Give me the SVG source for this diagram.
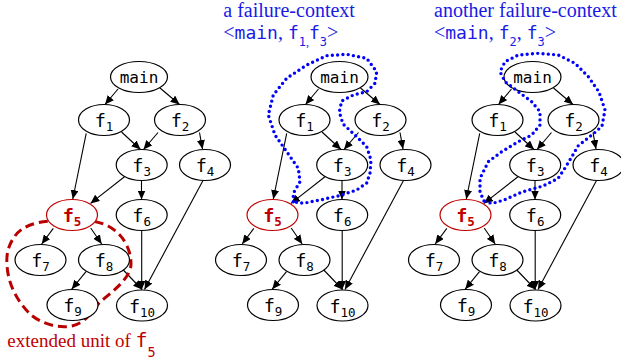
<svg xmlns="http://www.w3.org/2000/svg" width="621" height="362" viewBox="0 0 621 362">
<defs>
<marker id="ah" markerUnits="userSpaceOnUse" markerWidth="9" markerHeight="8" refX="9" refY="4" orient="auto">
<path d="M0,0 L9,4 L0,8 Z" fill="#000"/>
</marker>
<style>
.n ellipse{fill:#fff;stroke:#000;stroke-width:1.2}
.n.red ellipse{stroke:#c00000}
.lbl{font-family:"DejaVu Sans Mono",monospace;font-size:18.5px;text-anchor:middle;fill:#000}
.red .lbl{fill:#c00000;font-weight:bold}
.sub{font-size:12.5px}
.mainl{font-size:16px}
.e{stroke:#000;stroke-width:1.1;fill:none;marker-end:url(#ah)}
.blue{fill:none;stroke:#0000ff;stroke-width:3.4;stroke-dasharray:0 5.3;stroke-linecap:round;stroke-linejoin:round}
.redc{fill:none;stroke:#b80000;stroke-width:3;stroke-dasharray:9 5}
.ttl{font-family:"Liberation Serif","Times New Roman",serif;font-size:20px;fill:#1a1ae6}
.tm{font-family:"DejaVu Sans Mono",monospace;font-size:18px}
.ts{font-family:"DejaVu Sans Mono",monospace;font-size:12px}
.cap{font-family:"Liberation Serif","Times New Roman",serif;font-size:19px;fill:#c00000}
.cm{font-family:"DejaVu Sans Mono",monospace;font-size:20px}
.cs{font-family:"DejaVu Sans Mono",monospace;font-size:13.5px}
</style>
<g id="edges-tpl">
<line class="e" x1="118" y1="89" x2="105" y2="104.5"/>
<line class="e" x1="160" y1="88" x2="179.5" y2="104.5"/>
<line class="e" x1="121.5" y1="132" x2="140.5" y2="149.5"/>
<line class="e" x1="158" y1="132.5" x2="143.5" y2="149.5"/>
<line class="e" x1="86.2" y1="133.3" x2="72.8" y2="199"/>
<line class="e" x1="124.5" y1="176.7" x2="90.5" y2="203.4"/>
<line class="e" x1="141.5" y1="181" x2="141.5" y2="199.5"/>
<line class="e" x1="199.5" y1="132.5" x2="202.5" y2="149"/>
<line class="e" x1="203" y1="180.5" x2="144.5" y2="289.5"/>
<line class="e" x1="53.3" y1="228.3" x2="41.7" y2="244"/>
<line class="e" x1="90.7" y1="228" x2="101.7" y2="244"/>
<line class="e" x1="86" y1="271.7" x2="71.7" y2="289.2"/>
<line class="e" x1="123.3" y1="270" x2="142" y2="289.5"/>
<line class="e" x1="141.7" y1="231" x2="141.7" y2="289.5"/>
</g>
</defs>

<!-- Graph 1 -->
<g id="graph1">
<use id="g1-connectors" href="#edges-tpl"/>
<path id="g1-extended-unit" class="redc" d="M15,236 C22,226 36,222 50,221 C70,219 92,218 108,226 C122,233 131,248 131,264 C131,278 112,292 100,302 C92,310 88,322 72,326 C58,329 40,323 30,314 C18,302 8,285 7,265 C6,253 9,244 15,236 Z"/>
<g id="g1-main" class="n"><ellipse cx="139" cy="77" rx="28.5" ry="15.5"/><text class="lbl mainl" x="139" y="82.5">main</text></g>
<g id="g1-f1" class="n"><ellipse cx="104" cy="120" rx="25.5" ry="15.5"/><text class="lbl" x="104" y="127">f<tspan class="sub" dy="4">1</tspan></text></g>
<g id="g1-f2" class="n"><ellipse cx="180" cy="120" rx="25.5" ry="15.5"/><text class="lbl" x="180" y="127">f<tspan class="sub" dy="4">2</tspan></text></g>
<g id="g1-f3" class="n"><ellipse cx="141.7" cy="165" rx="25.5" ry="15.5"/><text class="lbl" x="141.7" y="172">f<tspan class="sub" dy="4">3</tspan></text></g>
<g id="g1-f4" class="n"><ellipse cx="205" cy="165" rx="25.5" ry="15.5"/><text class="lbl" x="205" y="172">f<tspan class="sub" dy="4">4</tspan></text></g>
<g id="g1-f5" class="n red"><ellipse cx="72" cy="215" rx="25.5" ry="15.5"/><text class="lbl" x="72" y="222">f<tspan class="sub" dy="4">5</tspan></text></g>
<g id="g1-f6" class="n"><ellipse cx="141.7" cy="215" rx="25.5" ry="15.5"/><text class="lbl" x="141.7" y="222">f<tspan class="sub" dy="4">6</tspan></text></g>
<g id="g1-f7" class="n"><ellipse cx="40.5" cy="260" rx="25.5" ry="15.5"/><text class="lbl" x="40.5" y="267">f<tspan class="sub" dy="4">7</tspan></text></g>
<g id="g1-f8" class="n"><ellipse cx="104" cy="260" rx="25.5" ry="15.5"/><text class="lbl" x="104" y="267">f<tspan class="sub" dy="4">8</tspan></text></g>
<g id="g1-f9" class="n"><ellipse cx="72.5" cy="305" rx="25.5" ry="15.5"/><text class="lbl" x="72.5" y="312">f<tspan class="sub" dy="4">9</tspan></text></g>
<g id="g1-f10" class="n"><ellipse cx="142" cy="305.5" rx="25.5" ry="15.5"/><text class="lbl" x="142" y="312.5">f<tspan class="sub" dy="4">10</tspan></text></g>
<text id="g1-caption" class="cap" x="7.3" y="347">extended unit of <tspan class="cm">f</tspan><tspan class="cs" dy="10">5</tspan></text>
</g>

<!-- Graph 2 -->
<g id="graph2" transform="translate(200.5,0)">
<use id="g2-connectors" href="#edges-tpl"/>
<g id="g2-main" class="n"><ellipse cx="139" cy="77" rx="28.5" ry="15.5"/><text class="lbl mainl" x="139" y="82.5">main</text></g>
<g id="g2-f1" class="n"><ellipse cx="104" cy="120" rx="25.5" ry="15.5"/><text class="lbl" x="104" y="127">f<tspan class="sub" dy="4">1</tspan></text></g>
<g id="g2-f2" class="n"><ellipse cx="180" cy="120" rx="25.5" ry="15.5"/><text class="lbl" x="180" y="127">f<tspan class="sub" dy="4">2</tspan></text></g>
<g id="g2-f3" class="n"><ellipse cx="141.7" cy="165" rx="25.5" ry="15.5"/><text class="lbl" x="141.7" y="172">f<tspan class="sub" dy="4">3</tspan></text></g>
<g id="g2-f4" class="n"><ellipse cx="205" cy="165" rx="25.5" ry="15.5"/><text class="lbl" x="205" y="172">f<tspan class="sub" dy="4">4</tspan></text></g>
<g id="g2-f5" class="n red"><ellipse cx="72" cy="215" rx="25.5" ry="15.5"/><text class="lbl" x="72" y="222">f<tspan class="sub" dy="4">5</tspan></text></g>
<g id="g2-f6" class="n"><ellipse cx="141.7" cy="215" rx="25.5" ry="15.5"/><text class="lbl" x="141.7" y="222">f<tspan class="sub" dy="4">6</tspan></text></g>
<g id="g2-f7" class="n"><ellipse cx="40.5" cy="260" rx="25.5" ry="15.5"/><text class="lbl" x="40.5" y="267">f<tspan class="sub" dy="4">7</tspan></text></g>
<g id="g2-f8" class="n"><ellipse cx="104" cy="260" rx="25.5" ry="15.5"/><text class="lbl" x="104" y="267">f<tspan class="sub" dy="4">8</tspan></text></g>
<g id="g2-f9" class="n"><ellipse cx="72.5" cy="305" rx="25.5" ry="15.5"/><text class="lbl" x="72.5" y="312">f<tspan class="sub" dy="4">9</tspan></text></g>
<g id="g2-f10" class="n"><ellipse cx="142" cy="305.5" rx="25.5" ry="15.5"/><text class="lbl" x="142" y="312.5">f<tspan class="sub" dy="4">10</tspan></text></g>
<path id="g2-context" class="blue" d="M92.8,201.7 L92.8,193.3 L99.5,181.7 L97.8,168.3 L86.2,151.7 L74.5,135 L67.8,115 L72.8,95 L86.2,78.3 L106.2,65 L126.2,55.7 L146.2,54.3 L166.2,58.3 L176.2,71.7 L174.5,83.3 L166.2,91.7 L152.8,95 L141.2,101 L138.8,112 L142.5,124 L156.2,136.7 L166.2,146.7 L170.5,160 L169.5,173 L166.2,183 L156.2,190 L139.5,195.5 L119.5,200 L102.8,203.3 Z"/>
</g>
<text id="g2-title1" class="ttl" x="223.3" y="17">a failure-context</text>
<text id="g2-title2" class="ttl" x="223.3" y="39">&lt;<tspan class="tm">main</tspan>, <tspan class="tm">f</tspan><tspan class="ts" dy="7">1</tspan><tspan font-size="12">,</tspan><tspan class="tm" dy="-7">f</tspan><tspan class="ts" dy="7">3</tspan><tspan dy="-7">&gt;</tspan></text>

<!-- Graph 3 -->
<g id="graph3" transform="translate(393.5,0)">
<use id="g3-connectors" href="#edges-tpl"/>
<g id="g3-main" class="n"><ellipse cx="139" cy="77" rx="28.5" ry="15.5"/><text class="lbl mainl" x="139" y="82.5">main</text></g>
<g id="g3-f1" class="n"><ellipse cx="104" cy="120" rx="25.5" ry="15.5"/><text class="lbl" x="104" y="127">f<tspan class="sub" dy="4">1</tspan></text></g>
<g id="g3-f2" class="n"><ellipse cx="180" cy="120" rx="25.5" ry="15.5"/><text class="lbl" x="180" y="127">f<tspan class="sub" dy="4">2</tspan></text></g>
<g id="g3-f3" class="n"><ellipse cx="141.7" cy="165" rx="25.5" ry="15.5"/><text class="lbl" x="141.7" y="172">f<tspan class="sub" dy="4">3</tspan></text></g>
<g id="g3-f4" class="n"><ellipse cx="205" cy="165" rx="25.5" ry="15.5"/><text class="lbl" x="205" y="172">f<tspan class="sub" dy="4">4</tspan></text></g>
<g id="g3-f5" class="n red"><ellipse cx="72" cy="215" rx="25.5" ry="15.5"/><text class="lbl" x="72" y="222">f<tspan class="sub" dy="4">5</tspan></text></g>
<g id="g3-f6" class="n"><ellipse cx="141.7" cy="215" rx="25.5" ry="15.5"/><text class="lbl" x="141.7" y="222">f<tspan class="sub" dy="4">6</tspan></text></g>
<g id="g3-f7" class="n"><ellipse cx="40.5" cy="260" rx="25.5" ry="15.5"/><text class="lbl" x="40.5" y="267">f<tspan class="sub" dy="4">7</tspan></text></g>
<g id="g3-f8" class="n"><ellipse cx="104" cy="260" rx="25.5" ry="15.5"/><text class="lbl" x="104" y="267">f<tspan class="sub" dy="4">8</tspan></text></g>
<g id="g3-f9" class="n"><ellipse cx="72.5" cy="305" rx="25.5" ry="15.5"/><text class="lbl" x="72.5" y="312">f<tspan class="sub" dy="4">9</tspan></text></g>
<g id="g3-f10" class="n"><ellipse cx="142" cy="305.5" rx="25.5" ry="15.5"/><text class="lbl" x="142" y="312.5">f<tspan class="sub" dy="4">10</tspan></text></g>
<path id="g3-context" class="blue" d="M90.5,201 L86.5,192 L86.5,178.3 L94.8,161.7 L108.2,151.7 L124.8,141.7 L138.2,135 L146.5,125 L146.5,111.7 L138.2,101.7 L124.8,91.7 L111.5,81.7 L106.5,71.7 L111.5,61.7 L124.8,55 L144.8,53.3 L164.8,55 L181.5,63.3 L194.8,76.7 L205.5,92 L211.5,110 L208.5,126 L203.2,131 L194.5,138 L184.5,146 L178.2,157 L171.5,168 L164.5,178.5 L149.5,186 L128.5,192 L110.5,200 L98.5,203.5 Z"/>
</g>
<text id="g3-title1" class="ttl" x="434" y="17">another failure-context</text>
<text id="g3-title2" class="ttl" x="434" y="39">&lt;<tspan class="tm">main</tspan>, <tspan class="tm">f</tspan><tspan class="ts" dy="7">2</tspan><tspan dy="-7">, </tspan><tspan class="tm">f</tspan><tspan class="ts" dy="7">3</tspan><tspan dy="-7">&gt;</tspan></text>
</svg>
